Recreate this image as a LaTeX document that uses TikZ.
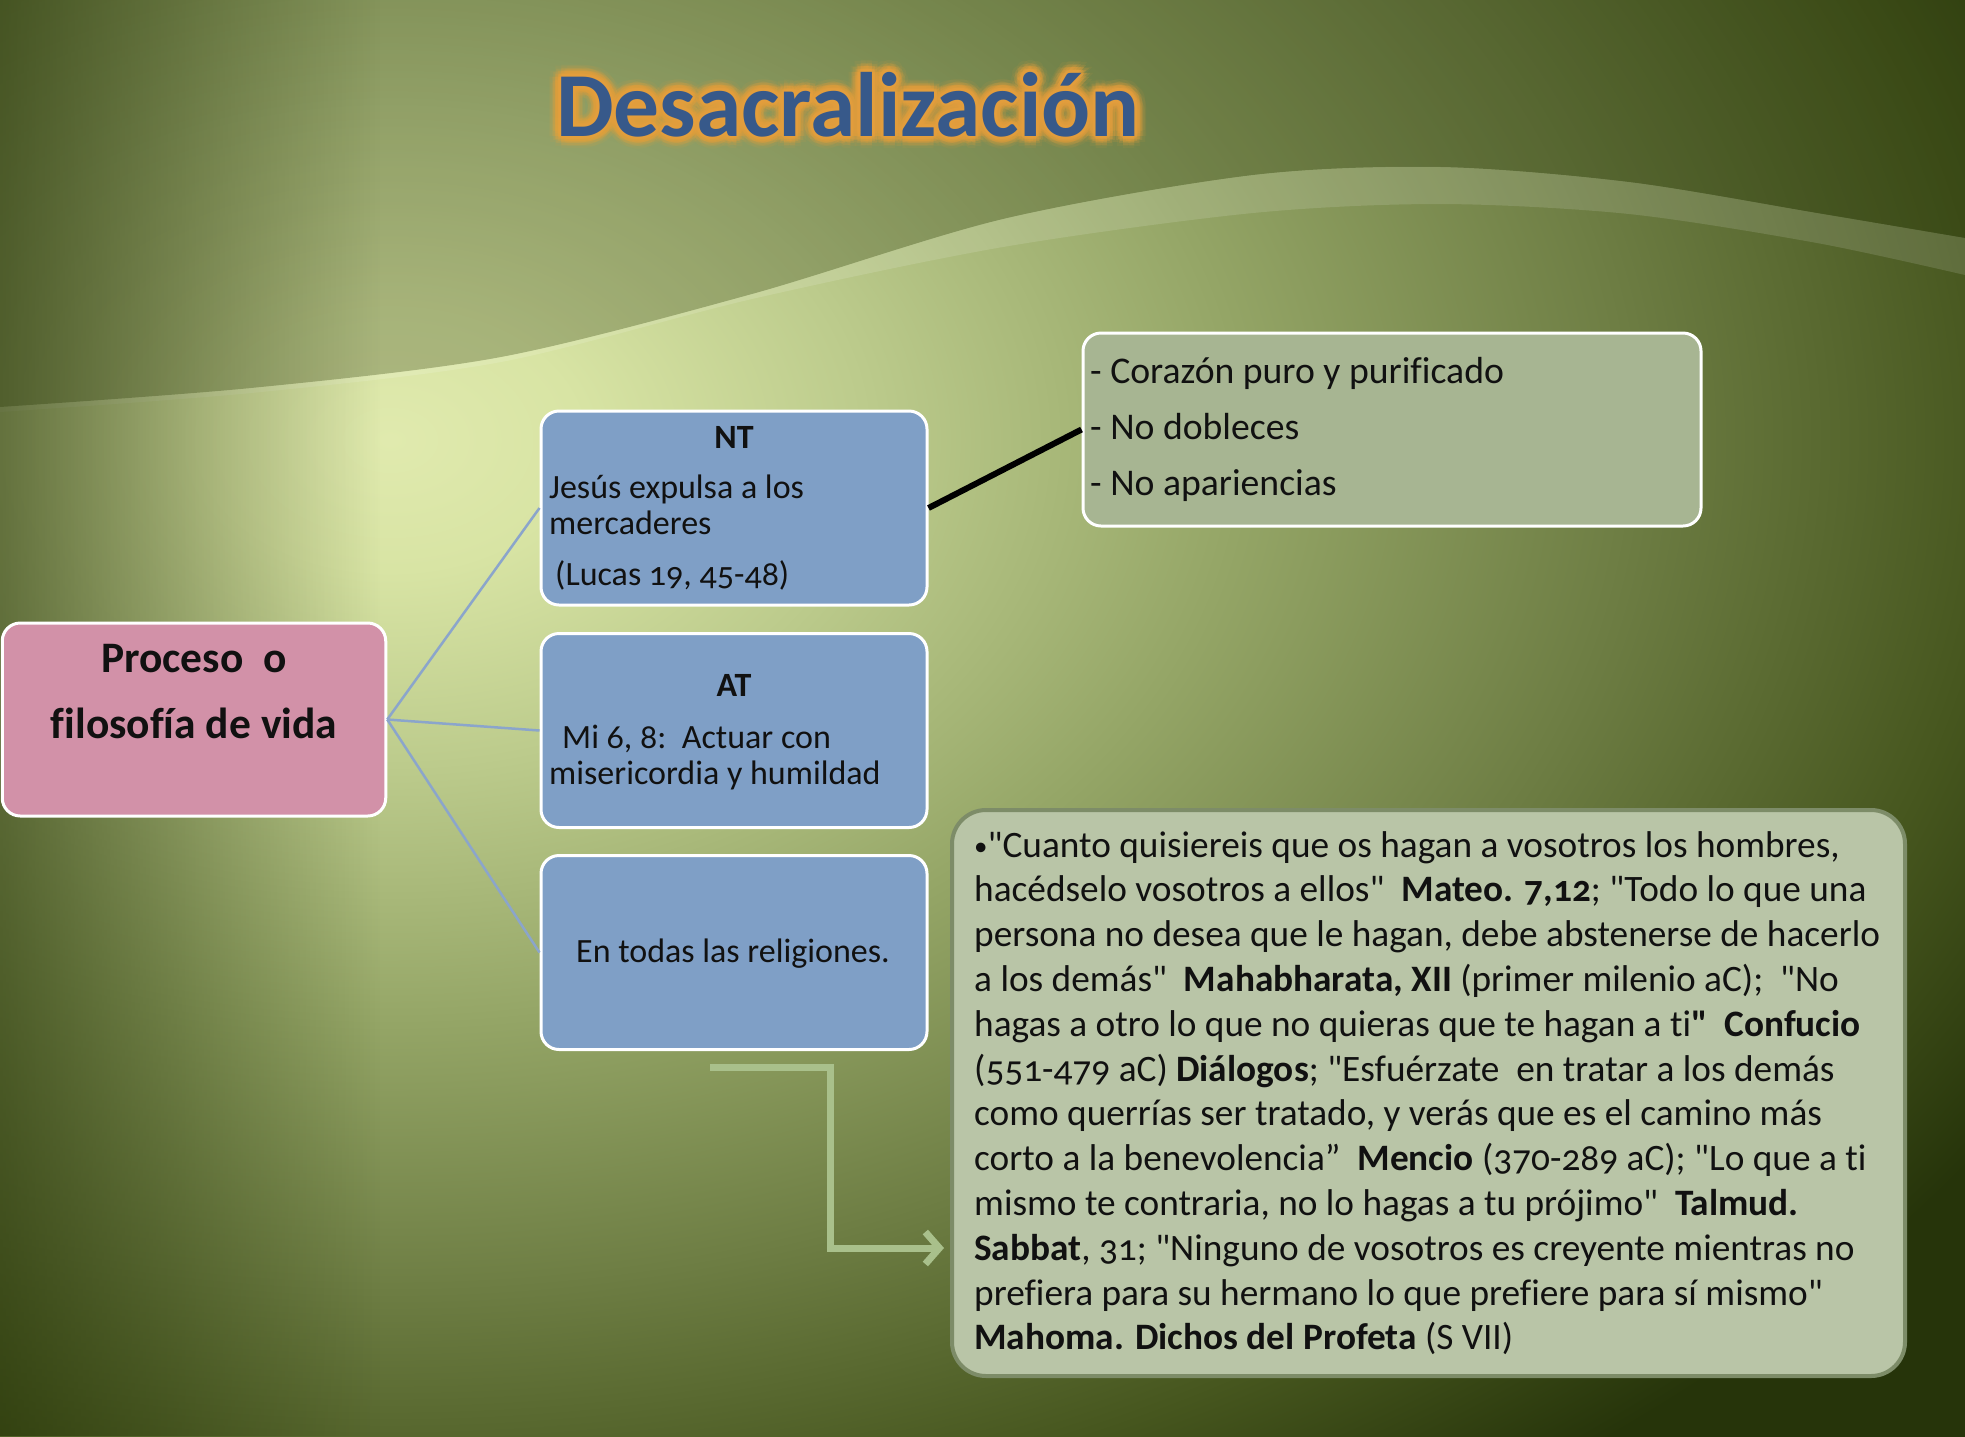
\documentclass[tikz,border=0pt]{standalone}
\usepackage{fontspec}
\setmainfont{Carlito}[Numbers=OldStyle, Ligatures={TeXOff,CommonOff}]
\usetikzlibrary{arrows.meta,calc,fadings}

\newcommand{\straightq}{\symbol{34}}
\newcommand{\smallbullet}{{\fontsize{27}{27}\selectfont\raisebox{2pt}{•}}}

\definecolor{bg0}{HTML}{E0EAAE}
\definecolor{bg1}{HTML}{D8E4A4}
\definecolor{bg2}{HTML}{BCCB8C}
\definecolor{bg3}{HTML}{94A566}
\definecolor{bg4}{HTML}{6E7E44}
\definecolor{bg5}{HTML}{46561E}
\definecolor{bg6}{HTML}{26340A}
\definecolor{wavedark}{HTML}{1A2800}
\definecolor{vignette}{HTML}{1E2C00}
\definecolor{boxblue}{HTML}{7F9FC6}
\definecolor{pinkfill}{HTML}{D291A8}
\definecolor{sagefill}{HTML}{A7B592}
\definecolor{quotefill}{HTML}{B9C5A7}
\definecolor{quoteborder}{HTML}{7D8C68}
\definecolor{blinecol}{HTML}{8BA5CB}
\definecolor{garrowcol}{HTML}{A9C08B}
\definecolor{titleblue}{HTML}{37598A}
\definecolor{glowcol}{HTML}{E6A03C}
\definecolor{inkcol}{HTML}{111111}

% the central 25bp radius of a radial shading is fitted to the path
\pgfdeclareradialshading{bgrad}{\pgfpoint{0bp}{0bp}}{color(0bp)=(bg0); color(1.83bp)=(bg1); color(4.57bp)=(bg2); color(8.22bp)=(bg3); color(11.88bp)=(bg4); color(15.53bp)=(bg5); color(18.27bp)=(bg6); color(50bp)=(bg6)}
\tikzfading[name=leftfade, left color=transparent!0, right color=transparent!100]

\tikzset{
  boxbase/.style={draw=white, line width=3pt, rounded corners=18pt, inner sep=0pt},
  bluebox/.style={boxbase, fill=boxblue, minimum width=386pt, minimum height=194pt},
  pinkbox/.style={boxbase, fill=pinkfill, minimum width=383.5pt, minimum height=193pt},
  sagebox/.style={boxbase, fill=sagefill, minimum width=618pt, minimum height=193pt},
  quotebox/.style={draw=quoteborder, line width=4pt, rounded corners=34pt, inner sep=0pt, fill=quotefill, minimum width=953pt, minimum height=566pt},
  txt/.style={inner sep=0pt, anchor=base west, text=inkcol, font=\fontsize{34}{40}\selectfont},
  boldtxt/.style={inner sep=0pt, anchor=base, text=inkcol, font=\fontsize{34}{40}\selectfont\bfseries},
  ptxt/.style={inner sep=0pt, anchor=base, text=inkcol, font=\fontsize{43.5}{50}\selectfont\bfseries},
  ctxt/.style={inner sep=0pt, anchor=base west, text=inkcol, font=\fontsize{37.7}{44}\selectfont},
  qtxt/.style={inner sep=0pt, anchor=base west, text=inkcol, font=\fontsize{37.3}{44.8}\selectfont},
  titlefont/.style={inner sep=0pt, anchor=base, font=\fontsize{91.5}{100}\selectfont\bfseries},
  bline/.style={draw=blinecol, line width=2.5pt},
  kline/.style={draw=black, line width=6pt},
  garrow/.style={draw=garrowcol, line width=7pt, -{Straight Barb[length=14pt,width=32pt,line width=7pt]}},
}

\begin{document}
\begin{tikzpicture}[x=1pt,y=-1pt]
\useasboundingbox (0,0) rectangle (1965,1436);

% background
\begin{scope}
  \clip (0,0) rectangle (1965,1436);
  \fill[bg6] (0,0) rectangle (1965,1436);
  \shade[shading=bgrad] (390,440) ellipse [x radius=2600, y radius=1779];
  \fill[wavedark, opacity=0.26] (0,0) -- plot[smooth] coordinates {(0,407) (251,388) (501,357) (752,294) (1003,219) (1253,175) (1441,167) (1629,182) (1817,213) (1965,238)} -- (1965,0) -- cycle;
  \begin{scope}
    \clip (0,0) -- plot[smooth] coordinates {(0,412) (251,393) (501,362) (752,299) (1003,247) (1253,213) (1441,204) (1629,214) (1817,243) (1965,275)} -- (1965,0) -- cycle;
    \fill[white, opacity=0.13] (0,1436) -- plot[smooth] coordinates {(0,407) (251,388) (501,357) (752,294) (1003,219) (1253,175) (1441,167) (1629,182) (1817,213) (1965,238)} -- (1965,1436) -- cycle;
  \end{scope}
  \fill[vignette, path fading=leftfade, fill opacity=0.58] (0,0) rectangle (380,1436);
\end{scope}

% title with glow
\coordinate (tbase) at (848,136);
\foreach \r/\o in {3/0.45,6/0.3,9/0.18,12/0.08} {
  \foreach \a in {0,30,...,330} {
    \node[titlefont, text=glowcol, text opacity=\o] (glow-\r-\a) at ($(tbase)+(\a:\r)$) {Desacralización};
  }
}
\node[titlefont, text=titleblue] (title) at (tbase) {Desacralización};

% boxes
\node[pinkbox] (proc) at (194,719.5) {};
\node[bluebox] (nt) at (734,508) {};
\node[bluebox] (at) at (734,730.5) {};
\node[bluebox] (rel) at (734,952.5) {};
\node[sagebox] (cora) at (1392,429.5) {};
\node[quotebox] (quote) at (1428.5,1093) {};

% connectors
\draw[bline] (proc.east) -- (nt.west);
\draw[bline] (proc.east) -- (at.west);
\draw[bline] (proc.east) -- (rel.west);
\draw[kline] (nt.east) -- (cora.west);
\coordinate (a1) at (710,1067);
\coordinate (abend) at (830,1067);
\coordinate (a2) at (944,1248);
\draw[garrow] (a1) -- (abend) |- (a2);

% texts
\node[ptxt] (pr1) at (194,672) {Proceso\ \ o};
\node[ptxt] (pr2) at (194,738) {filosofía de vida};

\node[boldtxt] (ntt) at (734,448) {NT};
\node[txt] (nt1) at (549,498) {Jesús expulsa a los};
\node[txt] (nt2) at (549,534) {mercaderes};
\node[txt] (nt3) at (555,585) {(Lucas 19, 45-48)};

\node[boldtxt] (att) at (734,696) {AT};
\node[txt] (at1) at (562,748) {Mi 6, 8:\ \ Actuar con};
\node[txt] (at2) at (549,784) {misericordia y humildad};

\node[txt, anchor=base] (rel1) at (733,962) {En todas las religiones.};

\node[ctxt] (c1) at (1090,383) {- Corazón puro y purificado};
\node[ctxt] (c2) at (1090,439) {- No dobleces};
\node[ctxt] (c3) at (1090,495) {- No apariencias};

\node[qtxt] (qt) at (974,857) {\vtop{\baselineskip=44.8pt
\hbox{\smallbullet\straightq Cuanto quisiereis que os hagan a vosotros los hombres,}
\hbox{hacédselo vosotros a ellos\straightq\ \ \textbf{Mateo. 7,12}; \straightq Todo lo que una}
\hbox{persona no desea que le hagan, debe abstenerse de hacerlo}
\hbox{a los demás\straightq\ \ \textbf{Mahabharata, XII} (primer milenio aC);\ \ \straightq No}
\hbox{hagas a otro lo que no quieras que te hagan a ti\textbf{\straightq\ \ Confucio}}
\hbox{(551-479 aC) \textbf{Diálogos}; \straightq Esfuérzate\ \ en tratar a los demás}
\hbox{como querrías ser tratado, y verás que es el camino más}
\hbox{corto a la benevolencia”\ \ \textbf{Mencio} (370-289 aC); \straightq Lo que a ti}
\hbox{mismo te contraria, no lo hagas a tu prójimo\straightq\ \ \textbf{Talmud.}}
\hbox{\textbf{Sabbat}, 31; \straightq Ninguno de vosotros es creyente mientras no}
\hbox{prefiera para su hermano lo que prefiere para sí mismo\straightq}
\hbox{\textbf{Mahoma. Dichos del Profeta} (S VII)}}};
\end{tikzpicture}
\end{document}
